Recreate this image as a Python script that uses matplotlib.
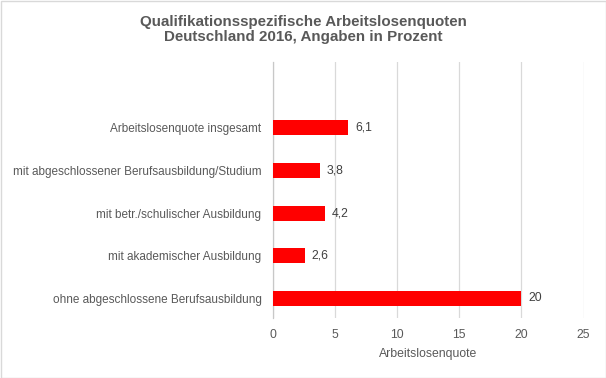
import matplotlib
matplotlib.use('Agg')
import matplotlib.pyplot as plt
from matplotlib.patches import Rectangle

# data, top to bottom as shown
categories = ['Arbeitslosenquote insgesamt',
              'mit abgeschlossener Berufsausbildung/Studium',
              'mit betr./schulischer Ausbildung',
              'mit akademischer Ausbildung',
              'ohne abgeschlossene Berufsausbildung']
values = [6.1, 3.8, 4.2, 2.6, 20]
value_labels = ['6,1', '3,8', '4,2', '2,6', '20']
xticks = [0, 5, 10, 15, 20, 25]

plt.rcParams['font.family'] = ['Liberation Sans', 'DejaVu Sans']

fig = plt.figure(figsize=(6.06, 3.78), dpi=100)
ax = fig.add_axes([272.5 / 606, 60 / 378, 311 / 606, 256 / 378])

n = len(categories)
ypos = [n - 1 - i for i in range(n)]
ax.barh(ypos, values, height=0.35, color='#ff0000', zorder=3)
for y, v, lab in zip(ypos, values, value_labels):
    ax.annotate(lab, (v, y), xytext=(5, 0), textcoords='offset points',
                va='center', ha='left', fontsize=8.8, color='#404040')

ax.set_xlim(0, 25)
ax.set_ylim(-0.46, n + 0.54)
ax.set_xticks(xticks)
ax.set_xticklabels([str(t) for t in xticks])
ax.set_yticks(ypos)
ax.set_yticklabels(categories)
ax.tick_params(axis='both', length=0, labelsize=8.5, labelcolor='#595959')
ax.tick_params(axis='x', labelsize=8.8)
ax.tick_params(axis='y', pad=8)
ax.tick_params(axis='x', pad=8)
ax.grid(axis='x', color='#d9d9d9', linewidth=0.9, zorder=0)
for s in ['top', 'right', 'bottom']:
    ax.spines[s].set_visible(False)
ax.spines['left'].set_color('#c8c8c8')
ax.spines['left'].set_linewidth(0.9)
ax.set_xlabel('Arbeitslosenquote', fontsize=8.8, color='#595959', labelpad=5)

fig.text(0.5, 0.922, 'Qualifikationsspezifische Arbeitslosenquoten\nDeutschland 2016, Angaben in Prozent',
         ha='center', va='center', fontsize=10.9, fontweight='bold', color='#595959',
         linespacing=1.1)

fig.patches.append(Rectangle((0.5 / 606, 0.5 / 378), 605 / 606, 377 / 378,
                             transform=fig.transFigure, fill=False,
                             edgecolor='#d9d9d9', linewidth=1))

fig.savefig('out.png', dpi=100)
